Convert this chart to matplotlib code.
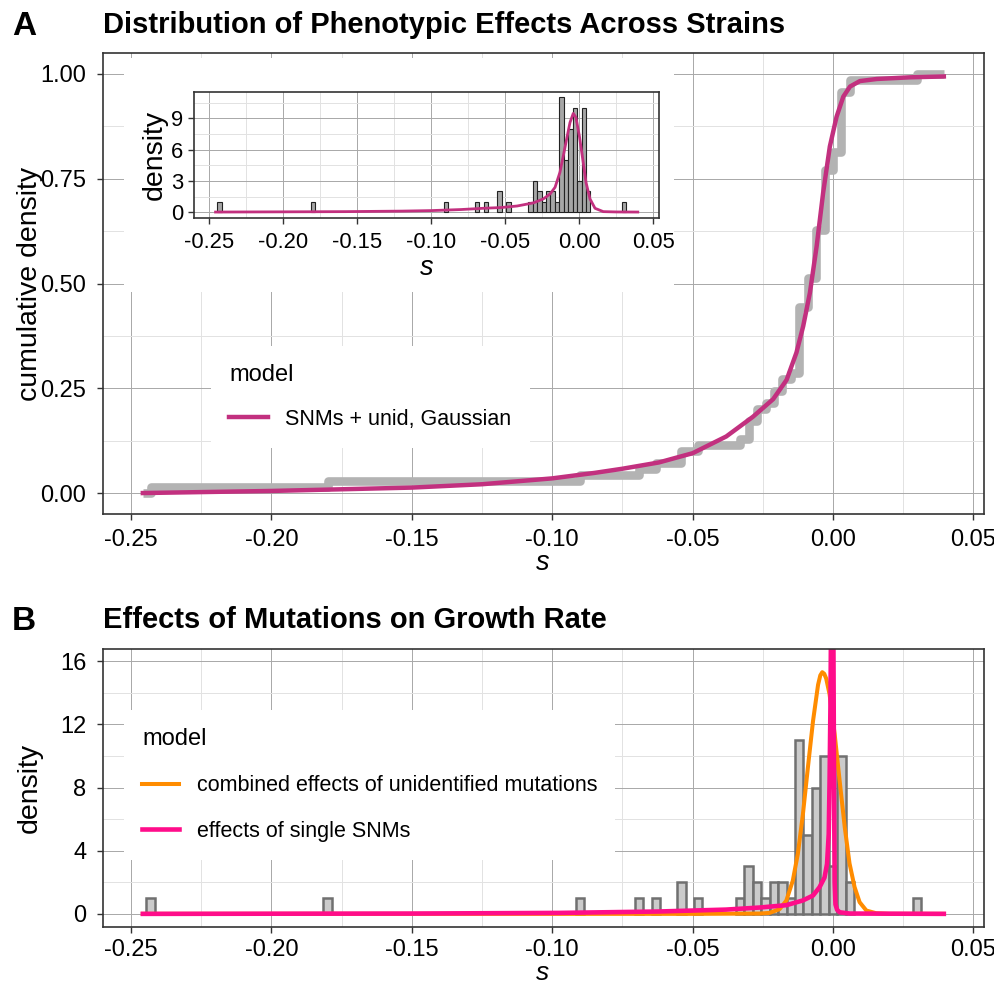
import numpy as np
import matplotlib
matplotlib.use("Agg")
import matplotlib.pyplot as plt
from matplotlib.patches import Rectangle

plt.rcParams['font.family'] = ['Liberation Sans', 'DejaVu Sans']
plt.rcParams['axes.unicode_minus'] = False

# histogram of s (bin width 0.003)
bin_centers = [-0.243, -0.180, -0.090, -0.069, -0.063, -0.054, -0.048, -0.033, -0.030,
               -0.027, -0.024, -0.021, -0.018, -0.015, -0.012, -0.009, -0.006, -0.003,
               0.000, 0.003, 0.006, 0.030]
bin_counts = [1, 1, 1, 1, 1, 2, 1, 1, 3, 2, 1, 2, 2, 1, 11, 5, 8, 10, 3, 10, 2, 1]
bin_width = 0.003
s_range = [-0.2458, 0.0395]

# fitted model, cumulative (panel A)
cdf_s = [-0.2458, -0.20, -0.15, -0.125, -0.10, -0.085, -0.075, -0.062, -0.05, -0.038,
         -0.0285, -0.0213, -0.0165, -0.013, -0.0106, -0.0082, -0.0058, -0.0035, -0.0011,
         0.0013, 0.0037, 0.0061, 0.0096, 0.0156, 0.0275, 0.0395]
cdf_y = [0.0, 0.005, 0.013, 0.021, 0.035, 0.048, 0.058, 0.073, 0.095, 0.135,
         0.182, 0.224, 0.27, 0.335, 0.398, 0.478, 0.589, 0.716, 0.827,
         0.898, 0.946, 0.970, 0.983, 0.988, 0.992, 0.994]

# fitted model, density (inset)
dens_s = [-0.2458, -0.20, -0.158, -0.12, -0.10, -0.08, -0.065, -0.053, -0.042, -0.031,
          -0.0243, -0.0198, -0.0164, -0.0131, -0.0108, -0.0086, -0.0063, -0.0041, -0.0023,
          0.0, 0.0023, 0.0045, 0.0072, 0.0106, 0.0162, 0.025, 0.0395]
dens_y = [0.02, 0.04, 0.06, 0.11, 0.16, 0.26, 0.38, 0.45, 0.6, 0.9,
          1.28, 1.75, 2.39, 3.83, 5.42, 7.0, 8.6, 9.47, 9.09,
          7.33, 5.1, 2.87, 1.28, 0.38, 0.06, 0.03, 0.02]

# panel B components
unid_s = [-0.2458, -0.05, -0.0262, -0.0226, -0.019, -0.0166, -0.0143, -0.0125, -0.0107,
          -0.0089, -0.0071, -0.0053, -0.0045, -0.0038, -0.0031, -0.0024, -0.0012, 0.0006,
          0.0024, 0.0042, 0.0059, 0.0077, 0.0095, 0.0119, 0.0154, 0.02, 0.0395]
unid_y = [0, 0, 0.02, 0.06, 0.3, 0.84, 2.1, 3.8, 6.3,
          9.3, 12.2, 14.5, 15.1, 15.3, 15.2, 14.9, 13.9, 11.4,
          8.4, 5.5, 3.2, 1.7, 0.74, 0.21, 0.04, 0, 0]
snm_s = [-0.2458, -0.20, -0.15, -0.0976, -0.0619, -0.0381, -0.0262, -0.0166, -0.0107,
         -0.0071, -0.0048, -0.003, -0.0021, -0.0015, -0.0012, -0.0009, -0.0006, -0.0003,
         0.0001, 0.0004, 0.0006, 0.0009, 0.0015, 0.0024, 0.006, 0.0395]
snm_y = [0.0, 0.01, 0.02, 0.06, 0.15, 0.27, 0.4, 0.55, 0.85,
         1.16, 1.68, 2.3, 3.16, 5.05, 8.4, 13.0, 20.0, 30.0,
         20.0, 8.0, 2.0, 0.6, 0.25, 0.1, 0.02, 0.0]

x_ticks = [-0.25, -0.20, -0.15, -0.10, -0.05, 0.00, 0.05]
x_labels = ['-0.25', '-0.20', '-0.15', '-0.10', '-0.05', '0.00', '0.05']
cdf_ticks = [0, 0.25, 0.5, 0.75, 1.0]
cdf_labels = ['0.00', '0.25', '0.50', '0.75', '1.00']
inset_ticks = [0, 3, 6, 9]
dens_ticks = [0, 4, 8, 12, 16]

W, H = 995, 984
x_lim = (-0.2601, 0.0537)


def box(l, t, r, b):
    return [l / W, 1 - b / H, (r - l) / W, (b - t) / H]


def mids(v):
    return [(a + b) / 2 for a, b in zip(v[:-1], v[1:])]


def style(ax, yt, ylab, yminor, ylim, size, xpad=6.3, ypad=7.5):
    ax.set_xticks(x_ticks)
    ax.set_xticklabels(x_labels)
    ax.set_xticks(mids(x_ticks), minor=True)
    ax.set_yticks(yt)
    ax.set_yticklabels(ylab)
    ax.set_yticks(yminor, minor=True)
    ax.set_xlim(*x_lim)
    ax.set_ylim(*ylim)
    ax.grid(which='major', color='#a8a8a8', lw=0.7)
    ax.grid(which='minor', color='#e2e2e2', lw=0.7)
    ax.set_axisbelow(True)
    ax.tick_params(which='minor', length=0)
    ax.tick_params(which='major', length=4.3, width=1, color='#333333', labelsize=size)
    ax.tick_params(axis='x', pad=xpad)
    ax.tick_params(axis='y', pad=ypad)
    for sp in ax.spines.values():
        sp.set_color('#333333')
        sp.set_linewidth(1.2)


leg_kw = dict(title='model', loc='upper left', bbox_transform=None, fontsize=15.5,
              title_fontsize=17, frameon=True, facecolor='white', edgecolor='none',
              framealpha=1, fancybox=False, borderpad=0.85, borderaxespad=0,
              handletextpad=0.8, alignment='left')

fig = plt.figure(figsize=(W / 100, H / 100), dpi=100)
leg_kw['bbox_transform'] = fig.transFigure

# ---- panel A
ax_a = fig.add_axes(box(102.7, 53, 983.7, 514))
vals = np.sort(np.repeat(bin_centers, bin_counts))
n = len(vals)
ecdf_x = np.concatenate([[s_range[0]], vals, [s_range[1]]])
ecdf_y = np.concatenate([[0], np.arange(1, n + 1) / n, [1]])
ax_a.step(ecdf_x, ecdf_y, where='post', color='#b3b3b3', lw=6.2, solid_capstyle='butt')
ax_a.plot(cdf_s, cdf_y, color='#c2307f', lw=3.2, label='SNMs + unid, Gaussian')
style(ax_a, cdf_ticks, cdf_labels, [0.125, 0.375, 0.625, 0.875], (-0.05, 1.05), 17)
ax_a.add_patch(Rectangle((124 / W, 1 - 292 / H), (674 - 124) / W, (292 - 58) / H,
                         transform=fig.transFigure, fc='white', ec='none', zorder=1.5))
ax_a.legend(bbox_to_anchor=(211 / W, 1 - 346 / H), handlelength=1.8,
            labelspacing=1.05, **leg_kw)

fig.text(12 / W, 1 - 35 / H, 'A', fontsize=24, fontweight='bold', va='baseline')
fig.text(103 / W, 1 - 33 / H, 'Distribution of Phenotypic Effects Across Strains',
         fontsize=21, fontweight='bold', va='baseline')
fig.text(30 / W, 1 - 283.5 / H, 'cumulative density', fontsize=20.5, rotation=90,
         ha='center', va='center')
fig.text(543 / W, 1 - 570.5 / H, 's', fontsize=19.5, style='italic', ha='center', va='baseline')

# ---- inset
ax_in = fig.add_axes(box(194.4, 91.7, 658.8, 218))
ax_in.set_zorder(3)
ax_in.bar(bin_centers, bin_counts, width=bin_width, color='#a6a6a6', edgecolor='#222222', lw=0.8)
ax_in.plot(dens_s, dens_y, color='#c2307f', lw=2.0)
style(ax_in, inset_ticks, [str(t) for t in inset_ticks], [1.5, 4.5, 7.5, 10.5],
      (-0.55, 11.55), 15.8, xpad=6, ypad=3.5)
fig.text(155 / W, 1 - 155 / H, 'density', fontsize=20.5, rotation=90, ha='center', va='center')
fig.text(427 / W, 1 - 275 / H, 's', fontsize=19.5, style='italic', ha='center', va='baseline')

# ---- panel B
ax_b = fig.add_axes(box(102.7, 648.5, 983.7, 926.5))
ax_b.bar(bin_centers, bin_counts, width=bin_width, color='#cbcbcb', edgecolor='#707070', lw=1.8)
ax_b.plot(unid_s, unid_y, color='#ff8c00', lw=2.9, label='combined effects of unidentified mutations')
ax_b.plot(snm_s, snm_y, color='#ff0d8a', lw=3.3, label='effects of single SNMs')
style(ax_b, dens_ticks, [str(t) for t in dens_ticks], [2, 6, 10, 14], (-0.8, 16.8), 17,
      xpad=4.8)
ax_b.legend(bbox_to_anchor=(124 / W, 1 - 710 / H), handlelength=1.72,
            labelspacing=1.15, **leg_kw)

fig.text(12 / W, 1 - 630 / H, 'B', fontsize=24, fontweight='bold', va='baseline')
fig.text(103 / W, 1 - 628 / H, 'Effects of Mutations on Growth Rate',
         fontsize=21, fontweight='bold', va='baseline')
fig.text(30 / W, 1 - 788 / H, 'density', fontsize=20.5, rotation=90, ha='center', va='center')
fig.text(543 / W, 1 - 980 / H, 's', fontsize=19, style='italic', ha='center', va='baseline')

fig.savefig('out.png', dpi=100)
